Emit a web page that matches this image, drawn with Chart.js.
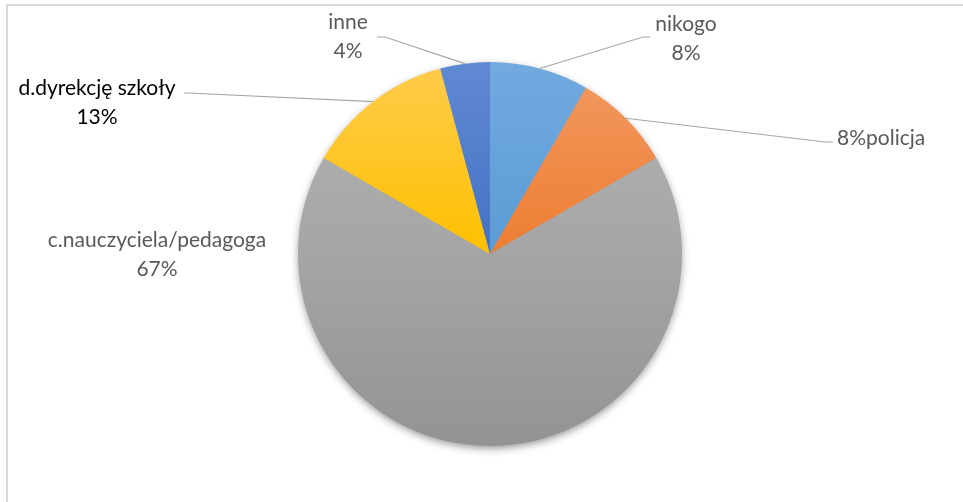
<!DOCTYPE html>
<html>
<head>
<meta charset="utf-8">
<script src="https://cdn.jsdelivr.net/npm/chart.js@4.4.1/dist/chart.umd.min.js"></script>
<style>
    html, body { margin: 0; padding: 0; background: #FFFFFF; }
    #wrap { width: 963px; height: 502px; }
</style>
</head>
<body>
<div id="wrap"><canvas id="pieChart" width="963" height="502"></canvas></div>
<script>
const FONT = 'Lato, "Open Sans", sans-serif';
const LABEL_COLOR = '#595959';
const LINE_COLOR = '#A6A6A6';
const FRAME_COLOR = '#D9D9D9';

// data
const categories = ['nikogo', 'policja', 'c.nauczyciela/pedagoga', 'd.dyrekcję szkoły', 'inne'];
const answers = [2, 2, 16, 3, 1];

// slice colours: [top, middle, bottom] of the vertical shading
const sliceShades = [
    ['#72AAE0', '#5B9BD5', '#4A8BCB'],
    ['#F29A62', '#ED7D31', '#E86E1C'],
    ['#B4B4B4', '#A5A5A5', '#939393'],
    ['#FFCB4D', '#FFC000', '#F0B400'],
    ['#6089D3', '#4472C4', '#3862B6']
];

// label placement, offsets from the pie centre
const labelLayout = [
    { elbow: [153, -217], end: [160, -217], text: [196, -230], align: 'center', twoLines: true, color: LABEL_COLOR },
    { elbow: [335, -112], end: [343, -112], text: [347, -116], align: 'left', twoLines: false, color: LABEL_COLOR },
    { elbow: null, end: null, text: [-333, -14], align: 'center', twoLines: true, color: LABEL_COLOR },
    { elbow: [-302, -161], end: [-306, -161], text: [-393, -166], align: 'center', twoLines: true, color: '#000000' },
    { elbow: [-105, -217], end: [-113, -217], text: [-142, -232], align: 'center', twoLines: true, color: LABEL_COLOR }
];

function shade(ctx) {
    const chart = ctx.chart;
    const area = chart.chartArea;
    if (!area) return sliceShades[ctx.dataIndex][1];
    const g = chart.ctx.createLinearGradient(0, area.top, 0, area.bottom);
    const s = sliceShades[ctx.dataIndex];
    g.addColorStop(0, s[0]);
    g.addColorStop(0.5, s[1]);
    g.addColorStop(1, s[2]);
    return g;
}

const framePlugin = {
    id: 'frame',
    beforeDraw(chart) {
        const c = chart.ctx;
        c.save();
        c.strokeStyle = FRAME_COLOR;
        c.lineWidth = 2;
        c.beginPath();
        c.moveTo(7, 502);
        c.lineTo(7, 5);
        c.lineTo(963, 5);
        c.stroke();
        c.restore();
    }
};

const shadowPlugin = {
    id: 'pieShadow',
    beforeDatasetsDraw(chart) {
        const arc = chart.getDatasetMeta(0).data[0];
        if (!arc) return;
        const c = chart.ctx;
        c.save();
        c.shadowColor = 'rgba(0,0,0,0.45)';
        c.shadowBlur = 9;
        c.shadowOffsetY = 3;
        c.fillStyle = '#A0A0A0';
        c.beginPath();
        c.arc(arc.x, arc.y, arc.outerRadius - 1, 0, Math.PI * 2);
        c.fill();
        c.restore();
    }
};

const labelPlugin = {
    id: 'leaderLabels',
    afterDatasetsDraw(chart) {
        const meta = chart.getDatasetMeta(0);
        const total = answers.reduce((a, b) => a + b, 0);
        const c = chart.ctx;
        c.save();
        c.font = '21px ' + FONT;
        c.textBaseline = 'middle';
        meta.data.forEach((arc, i) => {
            const L = labelLayout[i];
            const cx = arc.x, cy = arc.y;
            const mid = (arc.startAngle + arc.endAngle) / 2;
            const ax = cx + Math.cos(mid) * arc.outerRadius;
            const ay = cy + Math.sin(mid) * arc.outerRadius;
            if (L.elbow) {
                c.strokeStyle = LINE_COLOR;
                c.lineWidth = 1.2;
                c.beginPath();
                c.moveTo(ax, ay);
                c.lineTo(cx + L.elbow[0], cy + L.elbow[1]);
                c.lineTo(cx + L.end[0], cy + L.end[1]);
                c.stroke();
            }
            const pct = Math.round(answers[i] / total * 100) + '%';
            c.fillStyle = L.color;
            c.textAlign = L.align;
            const tx = cx + L.text[0], ty = cy + L.text[1];
            if (L.twoLines) {
                c.fillText(categories[i], tx, ty);
                c.fillText(pct, tx, ty + 29);
            } else {
                c.fillText(pct + categories[i], tx, ty);
            }
        });
        c.restore();
    }
};

new Chart(document.getElementById('pieChart'), {
    type: 'pie',
    data: {
        labels: categories,
        datasets: [{
            data: answers,
            backgroundColor: shade,
            borderWidth: 0,
            hoverOffset: 0
        }]
    },
    options: {
        responsive: false,
        animation: false,
        events: [],
        layout: { padding: { top: 62, bottom: 56, left: 200, right: 183 } },
        plugins: {
            legend: { display: false },
            tooltip: { enabled: false },
            title: { display: false }
        }
    },
    plugins: [framePlugin, shadowPlugin, labelPlugin]
});
</script>
</body>
</html>
